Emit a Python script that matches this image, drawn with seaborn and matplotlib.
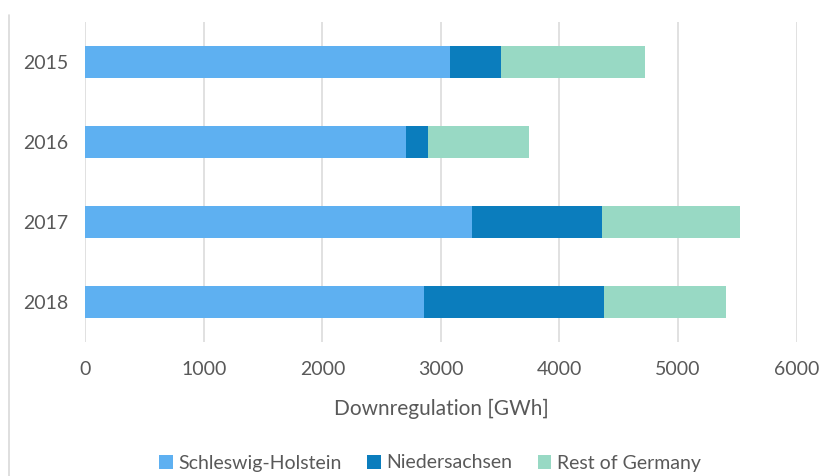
import matplotlib
matplotlib.use("Agg")
import matplotlib.pyplot as plt
from matplotlib.lines import Line2D
from matplotlib.patches import Patch
import seaborn as sns
import pandas as pd

# Annual downregulation by region (GWh)
years = ["2015", "2016", "2017", "2018"]
schleswig_holstein = [3080, 2705, 3260, 2860]
niedersachsen = [430, 185, 1100, 1520]
rest_of_germany = [1210, 850, 1160, 1025]
series_names = ["Schleswig-Holstein", "Niedersachsen", "Rest of Germany"]
colors = ["#5eb0f1", "#0b7dbd", "#98d9c4"]
x_ticks = [0, 1000, 2000, 3000, 4000, 5000, 6000]

df = pd.DataFrame({
    "year": years,
    "sh": schleswig_holstein,
    "ns": niedersachsen,
    "rest": rest_of_germany,
})
df["cum_sh"] = df["sh"]
df["cum_ns"] = df["sh"] + df["ns"]
df["cum_rest"] = df["cum_ns"] + df["rest"]

sns.set_theme(style="white")
plt.rcParams["font.family"] = ["Lato", "DejaVu Sans"]
text_color = "#595959"
grid_color = "#d9d9d9"

fig = plt.figure(figsize=(8.36, 4.76), dpi=100)
ax = fig.add_axes([85.3 / 836, 1 - 342 / 476, (796.5 - 85.3) / 836, 320 / 476])

# Stacked bars: draw cumulative totals from largest to smallest
for col, color in zip(["cum_rest", "cum_ns", "cum_sh"], colors[::-1]):
    sns.barplot(data=df, x=col, y="year", order=years, orient="h",
                color=color, width=0.39, saturation=1, ax=ax,
                linewidth=0, zorder=3)

ax.set_xlim(0, 6000)
ax.set_ylim(3.5, -0.5)
ax.set_xticks(x_ticks)
ax.set_xticklabels([str(t) for t in x_ticks])
ax.xaxis.grid(True, color=grid_color, linewidth=1.1, zorder=0)
ax.yaxis.grid(False)
ax.set_axisbelow(True)
for s in ax.spines.values():
    s.set_visible(False)
ax.tick_params(axis="both", length=0, labelsize=14, colors=text_color)
ax.tick_params(axis="x", pad=14)
ax.tick_params(axis="y", pad=12)
ax.set_ylabel("")
ax.set_xlabel("Downregulation [GWh]", fontsize=15, color=text_color, labelpad=15)

handles = [Patch(facecolor=c, edgecolor="none", label=n) for c, n in zip(colors, series_names)]
fig.legend(handles=handles, loc="center", bbox_to_anchor=(430 / 836, 1 - 463 / 476),
           ncol=3, frameon=False, fontsize=14, labelcolor=text_color,
           handlelength=0.7, handleheight=0.7, handletextpad=0.3, columnspacing=1.3)

# Chart frame edge on the left
fig.add_artist(Line2D([9 / 836, 9 / 836], [0, 1 - 15 / 476],
                      transform=fig.transFigure, color=grid_color, linewidth=1.2))

fig.savefig("out.png", dpi=100, facecolor="white")
